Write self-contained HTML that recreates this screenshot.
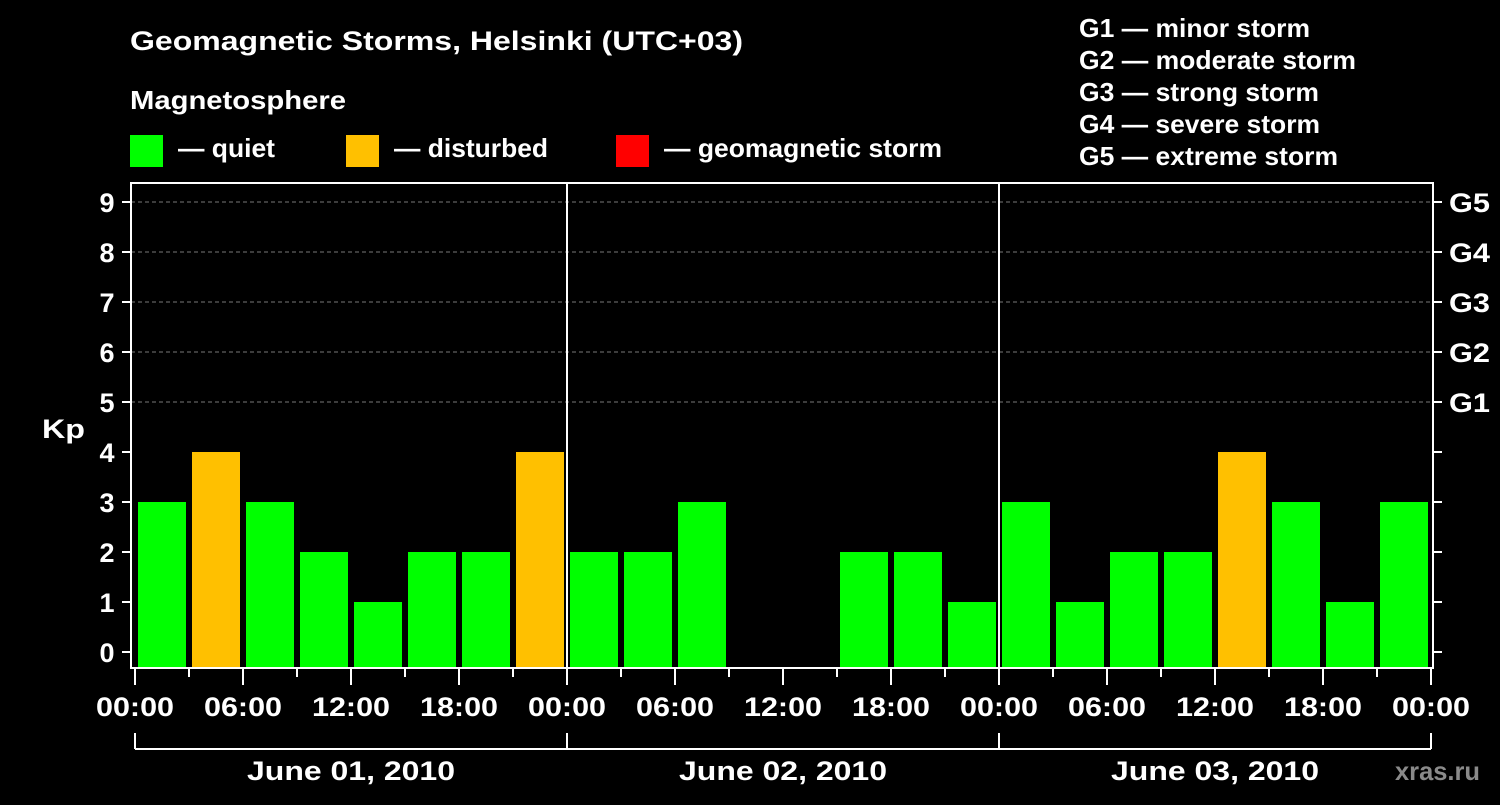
<!DOCTYPE html>
<html><head><meta charset="utf-8"><style>
body{margin:0;background:#000;}
svg text{font-family:"Liberation Sans",sans-serif;font-weight:bold;fill:#fff;}
</style></head><body>
<svg id="c" width="1500" height="800" xmlns="http://www.w3.org/2000/svg">
<rect width="1500" height="800" fill="#000"/>
<text x="130" y="50" font-size="27" textLength="613" lengthAdjust="spacingAndGlyphs">Geomagnetic Storms, Helsinki (UTC+03)</text>
<text x="130" y="109" font-size="26" textLength="216" lengthAdjust="spacingAndGlyphs">Magnetosphere</text>
<g><rect x="130" y="135" width="33" height="32" fill="#00ff00"/><text x="178" y="157" font-size="26" textLength="97" lengthAdjust="spacingAndGlyphs">— quiet</text></g>
<g><rect x="346" y="135" width="33" height="32" fill="#ffc000"/><text x="394" y="157" font-size="26" textLength="154" lengthAdjust="spacingAndGlyphs">— disturbed</text></g>
<g><rect x="616" y="135" width="33" height="32" fill="#ff0000"/><text x="664" y="157" font-size="26" textLength="278" lengthAdjust="spacingAndGlyphs">— geomagnetic storm</text></g>
<g font-size="26">
<text x="1079" y="37" textLength="231" lengthAdjust="spacingAndGlyphs">G1 — minor storm</text>
<text x="1079" y="69" textLength="277" lengthAdjust="spacingAndGlyphs">G2 — moderate storm</text>
<text x="1079" y="101" textLength="240" lengthAdjust="spacingAndGlyphs">G3 — strong storm</text>
<text x="1079" y="133" textLength="241" lengthAdjust="spacingAndGlyphs">G4 — severe storm</text>
<text x="1079" y="165" textLength="259" lengthAdjust="spacingAndGlyphs">G5 — extreme storm</text>
</g>
<text x="42" y="438" font-size="27" textLength="43" lengthAdjust="spacingAndGlyphs">Kp</text>
<g id="grid"></g><g id="bars"></g><g id="axes"></g>
<text x="1395" y="780" font-size="26" textLength="85" lengthAdjust="spacingAndGlyphs" style="fill:#8a8a8a">xras.ru</text>
</svg>
<script>
const days=["June 01, 2010","June 02, 2010","June 03, 2010"];
const kpValues=[3,4,3,2,1,2,2,4, 2,2,3,null,null,2,2,1, 3,1,2,2,4,3,1,3];
const yTicks=[0,1,2,3,4,5,6,7,8,9];
const gLabels=["G1","G2","G3","G4","G5"];
const gLevels=[5,6,7,8,9];
const xLabels=["00:00","06:00","12:00","18:00"];
const NS="http://www.w3.org/2000/svg";
const X0=135,DAYW=432,PB=668;
const y=v=>652-50*v;
const x=h=>X0+h/24*DAYW;
function mk(t,a,p){const e=document.createElementNS(NS,t);for(const k in a)e.setAttribute(k,a[k]);p.appendChild(e);return e;}
const grid=document.getElementById('grid'),bars=document.getElementById('bars'),axes=document.getElementById('axes');
gLevels.forEach(v=>{const l=mk('line',{x1:131,x2:1433,y1:y(v),y2:y(v),stroke:'#777','stroke-dasharray':'4,3','stroke-width':1},grid);

});
kpValues.forEach((v,i)=>{if(v===null)return;
const col=v>=5?'#ff0000':(v>=4?'#ffc000':'#00ff00');
const r=mk('rect',{x:x(i*3)+3,y:y(v),width:48,height:PB-y(v),fill:col},bars);

});
mk('rect',{x:131,y:183,width:1302,height:485,fill:'none',stroke:'#fff','stroke-width':2},axes);
for(let d=1;d<days.length;d++){mk('line',{x1:x(24*d),x2:x(24*d),y1:183,y2:668,stroke:'#fff','stroke-width':2},axes);}
yTicks.forEach(v=>{mk('line',{x1:122,x2:131,y1:y(v),y2:y(v),stroke:'#fff','stroke-width':2},axes);
mk('line',{x1:1433,x2:1442,y1:y(v),y2:y(v),stroke:'#fff','stroke-width':2},axes);
const t=mk('text',{x:107,y:y(v)+10,'font-size':27,'text-anchor':'middle'},axes);t.textContent=v;

});
gLabels.forEach((g,i)=>{const t=mk('text',{x:1449,y:y(gLevels[i])+10,'font-size':27,textLength:41,lengthAdjust:'spacingAndGlyphs'},axes);t.textContent=g;

});
const nH=days.length*24;
for(let h=0;h<=nH;h+=3){const major=h%6===0;
mk('line',{x1:x(h),x2:x(h),y1:669,y2:major?685:677,stroke:'#fff','stroke-width':2},axes);
if(major){const t=mk('text',{x:x(h),y:716,'font-size':27,'text-anchor':'middle',textLength:78,lengthAdjust:'spacingAndGlyphs'},axes);t.textContent=xLabels[(h/6)%4];

}}
mk('line',{x1:x(0),x2:x(nH),y1:749,y2:749,stroke:'#fff','stroke-width':2},axes);
for(let d=0;d<=days.length;d++)mk('line',{x1:x(24*d),x2:x(24*d),y1:733,y2:749,stroke:'#fff','stroke-width':2},axes);
days.forEach((d,i)=>{const t=mk('text',{x:x(24*i+12),y:780,'font-size':27,'text-anchor':'middle',textLength:208,lengthAdjust:'spacingAndGlyphs'},axes);t.textContent=d;

});
</script>
</body></html>
